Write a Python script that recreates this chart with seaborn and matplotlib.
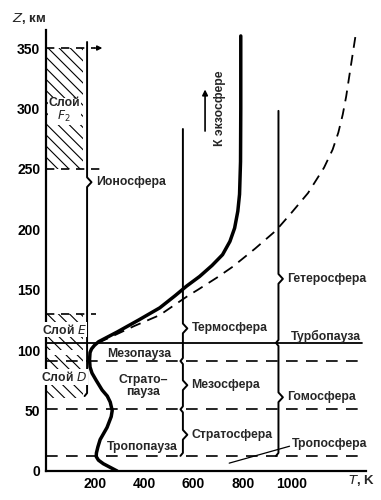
import matplotlib
matplotlib.use("Agg")
import matplotlib.pyplot as plt
import seaborn as sns
import pandas as pd
from matplotlib.patches import Rectangle

# ---------------- data ----------------
# mean temperature profile (thick solid)
temp_z = [0, 3, 6, 9, 12, 15, 20, 26, 36, 45, 50, 57, 62, 67, 75, 81, 86, 92, 98,
          101, 104, 107, 115, 125, 135, 145, 153, 161, 170, 179, 190, 201, 215, 229,
          256, 300, 360]
temp_T = [290, 262, 234, 214, 205, 206, 212, 221, 249, 266, 270, 262, 250, 229, 205,
          188, 180, 178, 180, 186, 198, 215, 290, 378, 463, 525, 572, 625, 675, 718,
          748, 767, 780, 787, 791, 792, 792]
# hot (active sun) profile (dashed)
hot_z = [106, 110, 120, 129, 137, 145, 150, 160, 169, 184, 199, 213, 230, 251, 266,
         280, 295, 310, 334, 363]
hot_T = [212, 255, 360, 463, 520, 578, 618, 695, 759, 850, 935, 995, 1065, 1130, 1165,
         1188, 1206, 1220, 1238, 1260]

# layer boundaries
turbopause_z = 106
long_dashed_z = [91, 51, 12.5]
short_dashed = [(350, 200), (250, 225), (130, 205)]   # (height, right end T)

# hatched ionospheric layers: (name, z bottom, z top, label height)
layers = [("Слой\n$F_2$", 250, 350, 298), ("Слой $E$", 100, 130, 117),
          ("Слой $D$", 60, 96, 78)]
layer_T = 150

# bracket columns: T position, z bottom, z top, brace tips, label texts
brackets = [
    dict(T=168, zb=62, zt=355, tips=[239], joints=[], labels=["Ионосфера"]),
    dict(T=557, zb=12.5, zt=283, tips=[118, 71, 30], joints=[91, 51],
         labels=["Термосфера", "Мезосфера", "Стратосфера"]),
    dict(T=945, zb=12.5, zt=298, tips=[159, 61], joints=[106],
         labels=["Гетеросфера", "Гомосфера"]),
]

# ---------------- style ----------------
sns.set_theme(style="white")
plt.rcParams["font.family"] = ["Liberation Sans", "DejaVu Sans"]
plt.rcParams["hatch.linewidth"] = 0.8
plt.rcParams["hatch.color"] = "black"
FS = 8.8

fig = plt.figure(figsize=(3.81, 5.0), dpi=100)
ax = fig.add_axes([45.7 / 381, 29 / 500, 320.2 / 381, 441.1 / 500])
ax.set_xlim(0, 1300)
ax.set_ylim(0, 365)

# hatched layers
for name, zb, zt, zl in layers:
    ax.add_patch(Rectangle((0, zb), layer_T, zt - zb, facecolor="white",
                           edgecolor="black", hatch="\\\\\\", lw=0, zorder=1))
    ax.text(layer_T * 0.5, zl, name, ha="center", va="center", fontsize=FS,
            fontweight="bold", linespacing=1.0, zorder=3,
            bbox=dict(facecolor="white", edgecolor="none", pad=0.6))

# horizontal boundaries
ax.plot([0, 1285], [turbopause_z] * 2, color="black", lw=1.3, zorder=2)
for z in long_dashed_z:
    ax.plot([0, 1295], [z, z], color="black", lw=1.2, dashes=(7, 5), zorder=2)
for z, tr in short_dashed:
    ax.plot([0, tr], [z, z], color="black", lw=1.2, dashes=(5, 4), zorder=2)
ax.annotate("", xy=(short_dashed[0][1] + 30, 350), xytext=(short_dashed[0][1], 350),
            arrowprops=dict(arrowstyle="-|>", color="black", lw=1.1,
                            mutation_scale=7, shrinkA=0, shrinkB=0), zorder=2)

# bracket columns
for b in brackets:
    T = b["T"]
    pts = [(T - 10, b["zb"]), (T, b["zb"] + 2.5)]
    events = sorted([(z, "tip") for z in b["tips"]] + [(z, "joint") for z in b["joints"]])
    for z, kind in events:
        if kind == "tip":
            pts += [(T, z - 4), (T + 18, z), (T, z + 4)]
        else:
            pts += [(T, z - 2.5), (T - 10, z), (T, z + 2.5)]
    pts.append((T, b["zt"]))
    xs, ys = zip(*pts)
    ax.plot(xs, ys, color="black", lw=1.4, zorder=2, solid_joinstyle="round")
    for z, lab in zip(b["tips"], b["labels"]):
        ax.text(T + 35, z, lab, ha="left", va="center", fontsize=FS,
                fontweight="bold", zorder=3)

# temperature curves (seaborn)
df_mean = pd.DataFrame({"T": temp_T, "z": temp_z})
df_hot = pd.DataFrame({"T": hot_T, "z": hot_z})
sns.lineplot(data=df_hot, x="T", y="z", sort=False, estimator=None, ax=ax,
             color="black", lw=1.3, zorder=4).lines[-1].set_dashes((6, 4))
sns.lineplot(data=df_mean, x="T", y="z", sort=False, estimator=None, ax=ax,
             color="black", lw=2.5, zorder=5)

# pause labels
ax.text(250, 96.5, "Мезопауза", ha="left", va="center", fontsize=FS, fontweight="bold")
ax.text(395, 70.5, "Страто–\nпауза", ha="center", va="center", fontsize=FS,
        fontweight="bold", linespacing=1.05)
ax.text(250, 19.5, "Тропопауза", ha="left", va="center", fontsize=FS, fontweight="bold")
ax.text(995, 111, "Турбопауза", ha="left", va="center", fontsize=FS, fontweight="bold")
ax.text(1000, 22, "Тропосфера", ha="left", va="center", fontsize=FS, fontweight="bold")
ax.plot([745, 990], [6.5, 20.5], color="black", lw=0.9)

# exosphere arrow
ax.annotate("", xy=(647, 318), xytext=(647, 279),
            arrowprops=dict(arrowstyle="-|>", color="black", lw=1.2, mutation_scale=8))
ax.text(708, 300, "К экзосфере", rotation=90, ha="center", va="center",
        fontsize=FS, fontweight="bold")

# axes styling
for s in ["top", "right"]:
    ax.spines[s].set_visible(False)
for s in ["left", "bottom"]:
    ax.spines[s].set_color("black")
    ax.spines[s].set_linewidth(1.6)
ax.set_xticks(range(0, 1201, 100))
ax.set_xticklabels(["" if (v % 200 or v == 0 or v > 1000) else str(v)
                    for v in range(0, 1201, 100)])
ax.set_yticks(range(0, 351, 50))
ax.tick_params(direction="in", length=4, width=1.1, colors="black",
               labelsize=10, pad=4)
for lab in ax.get_xticklabels() + ax.get_yticklabels():
    lab.set_fontweight("bold")
ax.set_xlabel("")
ax.set_ylabel("")
fig.text(12 / 381, 1 - 18 / 500, "$\\mathbf{\\mathit{Z}}$, км", ha="left", va="center",
         fontsize=9.5, fontweight="bold")
fig.text(375 / 381, 1 - 481 / 500, "$\\mathbf{\\mathit{T}}$, K", ha="right", va="center",
         fontsize=9.5, fontweight="bold")

fig.savefig("out.png", dpi=100, facecolor="white")
